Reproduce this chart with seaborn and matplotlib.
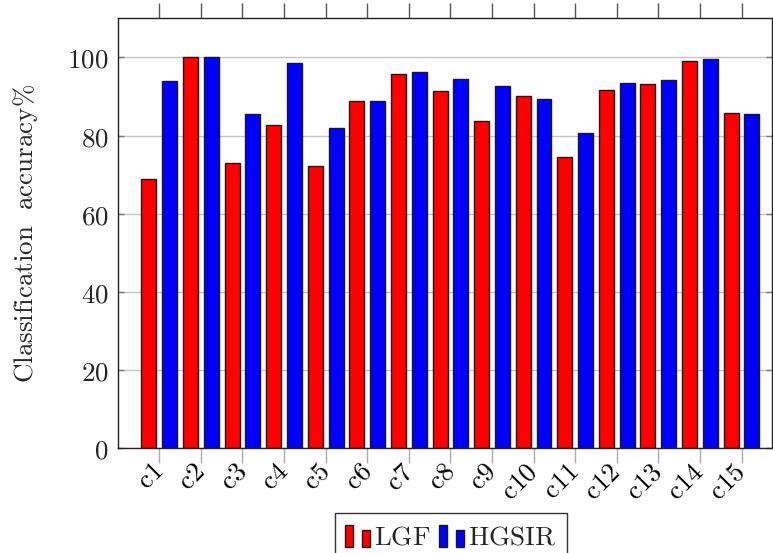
import matplotlib
matplotlib.use("Agg")
import matplotlib.pyplot as plt
import seaborn as sns
import pandas as pd
from matplotlib.legend_handler import HandlerBase
from matplotlib.patches import Rectangle
from matplotlib.ticker import FuncFormatter, FixedLocator

categories = ["c1", "c2", "c3", "c4", "c5", "c6", "c7", "c8", "c9", "c10",
              "c11", "c12", "c13", "c14", "c15"]
lgf = [69.0, 100.0, 73.1, 82.7, 72.1, 88.9, 95.7, 91.3, 83.8, 90.2,
       74.6, 91.7, 93.1, 99.2, 85.7]
hgsir = [94.0, 100.0, 85.5, 98.5, 81.9, 88.9, 96.2, 94.4, 92.7, 89.4,
         80.6, 93.4, 94.1, 99.6, 85.4]
series_names = ["LGF", "HGSIR"]
colors = ["#ff0000", "#0000ff"]
yticks = [0, 20, 40, 60, 80, 100]

sns.set_theme(style="white")
plt.rcParams["mathtext.fontset"] = "cm"
plt.rcParams["font.family"] = ["DejaVu Serif"]

df = pd.DataFrame({
    "cat": categories * 2,
    "val": lgf + hgsir,
    "series": [series_names[0]] * len(categories) + [series_names[1]] * len(categories),
})

fig = plt.figure(figsize=(7.73, 5.53), dpi=100)
ax = fig.add_axes([118.3 / 773, 1 - 448.3 / 553, (772.3 - 118.3) / 773, (448.3 - 18.3) / 553])

sns.barplot(data=df, x="cat", y="val", hue="series", order=categories,
            hue_order=series_names, palette=colors, saturation=1,
            width=1.0, gap=0.28, errorbar=None, edgecolor="#1a1a1a",
            linewidth=1.0, ax=ax, legend=False)

ax.set_xlim(-0.986, 14.74)
ax.set_ylim(0, 110)
ax.set_axisbelow(True)
ax.yaxis.set_major_locator(FixedLocator(yticks))
ax.grid(axis="y", color="#c4c4c4", linewidth=1.0)
ax.grid(axis="x", visible=False)

fs = 19.5
ax.set_xticks(range(len(categories)))
ax.set_xticklabels([r"$\mathrm{%s}$" % c for c in categories], rotation=45,
                   ha="right", va="center", rotation_mode="anchor", fontsize=fs)
ax.yaxis.set_major_formatter(FuncFormatter(lambda v, p: r"$\mathrm{%d}$" % v))
ax.tick_params(axis="y", which="major", labelsize=fs, direction="in", length=4,
               color="#777777", left=True, right=True, pad=7, width=1.0)
ax.tick_params(axis="x", which="major", direction="out", length=11, color="#aaaaaa",
               bottom=True, top=False, pad=3, width=1.0, labelcolor="#000000")

sec = ax.secondary_xaxis("top")
sec.set_xticks(range(len(categories)))
sec.set_xticklabels([""] * len(categories))
sec.tick_params(direction="out", length=11, color="#555555", width=1.0)
sec.spines["top"].set_visible(False)

for s in ax.spines.values():
    s.set_color("#222222")
    s.set_linewidth(1.0)
    s.set_visible(True)

ax.set_xlabel("")
ax.set_ylabel(r"$\mathrm{Classification\ \ accuracy\%}$", fontsize=fs)
ax.yaxis.set_label_coords((25.5 - 118.3) / 654.0, 0.5)
ax.yaxis.label.set_va("center")


class TwoBarHandler(HandlerBase):
    def create_artists(self, legend, orig_handle, xdescent, ydescent, width,
                       height, fontsize, trans):
        fc = orig_handle.get_facecolor()
        bw = 0.32 * width
        y0 = -ydescent - 0.12 * height
        r1 = Rectangle((-xdescent, y0), bw, 1.15 * height, facecolor=fc,
                       edgecolor="#1a1a1a", linewidth=1.0, transform=trans)
        r2 = Rectangle((-xdescent + width - bw, y0), bw, 0.87 * height,
                       facecolor=fc, edgecolor="#1a1a1a", linewidth=1.0,
                       transform=trans)
        return [r1, r2]


handles = [Rectangle((0, 0), 1, 1, facecolor=c) for c in colors]
leg = fig.legend(handles, [r"$\mathrm{%s}$" % n for n in series_names],
                 handler_map={Rectangle: TwoBarHandler()},
                 loc="upper center", bbox_to_anchor=(450.8 / 773, 1 - 513.3 / 553),
                 ncol=2, fontsize=fs, frameon=True, fancybox=False, shadow=False,
                 framealpha=1, edgecolor="#333333", borderaxespad=0,
                 handlelength=0.92, handletextpad=0.16, columnspacing=0.3,
                 borderpad=0.38)
leg.get_frame().set_linewidth(1.0)

fig.savefig("out.png", dpi=100)
